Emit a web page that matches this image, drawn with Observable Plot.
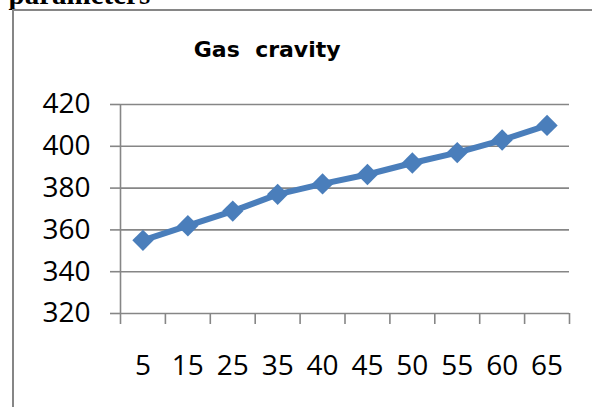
<!DOCTYPE html>
<html>
<head>
<meta charset="utf-8">
<script src="https://cdn.jsdelivr.net/npm/d3@7"></script>
<script src="https://cdn.jsdelivr.net/npm/@observablehq/plot@0.6"></script>
<style>
  html, body { margin: 0; padding: 0; background: #fff; }
  #wrap { position: relative; width: 592px; height: 407px; overflow: hidden; background: #fff; }
  #wrap svg { position: absolute; left: 0; top: 0; }
  #wrap svg text { white-space: pre; }
  #border { position: absolute; left: 12px; top: 9px; width: 800px; height: 600px;
            border-left: 2px solid #868686; border-top: 2px solid #868686; pointer-events: none; }
</style>
</head>
<body>
<div id="wrap"><div id="border"></div></div>
<script>
const categories = ["5", "15", "25", "35", "40", "45", "50", "55", "60", "65"];
const values = [355, 362, 369, 377, 382, 386.5, 392, 397, 403, 410];
const yTicks = [320, 340, 360, 380, 400, 420];
const title = "Gas  cravity";
const headerText = "parameters";

const data = categories.map((c, i) => ({i, c, v: values[i]}));
const gray = "#868686";
const blue = "#4A7EBB";

const chart = Plot.plot({
  width: 592,
  height: 407,
  marginLeft: 120,
  marginRight: 23,
  marginTop: 104,
  marginBottom: 94,
  style: {background: "transparent", fontFamily: "Open Sans", fontSize: "28px", color: "black"},
  x: {type: "linear", domain: [0, categories.length]},
  y: {domain: [320, 420]},
  marks: [
    Plot.ruleY(yTicks, {stroke: gray, strokeWidth: 1.6}),
    Plot.ruleX([0], {stroke: gray, strokeWidth: 1.6}),
    Plot.axisY(yTicks, {tickSize: 10, tickPadding: 20, stroke: gray, strokeWidth: 1.6, fill: "black",
      fontSize: 28, fontFamily: "Open Sans", tickFormat: d => String(d), label: null}),
    Plot.axisX(d3.range(categories.length + 1), {tickSize: 11, stroke: gray, strokeWidth: 1.6,
      tickFormat: () => "", label: null}),
    Plot.axisX(categories.map((c, i) => i + 0.5), {tickSize: 0, tickPadding: 42, fill: "black",
      fontSize: 28, fontFamily: "Open Sans", tickFormat: d => categories[Math.round(d - 0.5)], label: null}),
    Plot.line(data, {x: d => d.i + 0.5, y: "v", stroke: blue, strokeWidth: 6, strokeLinejoin: "round"}),
    Plot.dot(data, {x: d => d.i + 0.5, y: "v", symbol: "diamond2", r: 9.6, fill: blue, stroke: "none"}),
    Plot.text([title], {text: d => d, frameAnchor: "top-left", lineAnchor: "middle", dx: 146.7, dy: -55,
      textAnchor: "middle", fontFamily: "DejaVu Sans", fontWeight: "bold", fontSize: 22, fill: "black"}),
    Plot.text([headerText], {text: d => d, frameAnchor: "top-left", lineAnchor: "middle", dx: -112, dy: -109.3,
      textAnchor: "start", fontFamily: "Liberation Serif", fontWeight: "bold", fontSize: 29, fill: "black"})
  ]
});
document.getElementById("wrap").insertBefore(chart, document.getElementById("border"));
</script>
</body>
</html>
